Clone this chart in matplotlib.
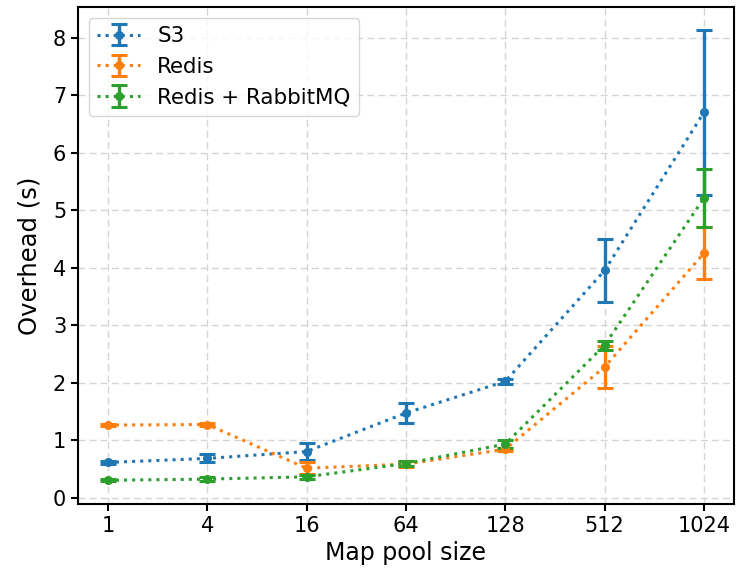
import matplotlib
matplotlib.use("Agg")
import matplotlib.pyplot as plt
import numpy as np

pool_sizes = ["1", "4", "16", "64", "128", "512", "1024"]

s3_mean = [0.61, 0.68, 0.80, 1.47, 2.02, 3.95, 6.70]
s3_err = [0.03, 0.07, 0.14, 0.17, 0.04, 0.55, 1.44]

redis_mean = [1.26, 1.27, 0.51, 0.58, 0.84, 2.27, 4.25]
redis_err = [0.02, 0.02, 0.10, 0.05, 0.03, 0.37, 0.45]

rmq_mean = [0.30, 0.32, 0.36, 0.59, 0.93, 2.65, 5.21]
rmq_err = [0.02, 0.03, 0.04, 0.05, 0.07, 0.08, 0.50]

series = [
    ("S3", s3_mean, s3_err, "#1f77b4"),
    ("Redis", redis_mean, redis_err, "#ff7f0e"),
    ("Redis + RabbitMQ", rmq_mean, rmq_err, "#2ca02c"),
]

fig = plt.figure(figsize=(7.36, 5.78), dpi=100)
ax = fig.add_axes([0.106, 0.128, 0.891, 0.860])

x = np.arange(len(pool_sizes))
for label, m, e, c in series:
    ax.errorbar(x, m, yerr=e, fmt="o", linestyle=":", color=c, label=label,
                markersize=5.5, linewidth=2.2, elinewidth=2.4, capsize=6, capthick=2.2)

ax.set_xticks(x)
ax.set_xticklabels(pool_sizes)
ax.grid(True, linestyle=(0, (5, 3)), color="#d5d5d5", linewidth=1)
ax.set_axisbelow(True)
ax.tick_params(labelsize=15, width=1.5, length=5)
for s in ax.spines.values():
    s.set_linewidth(1.5)
ax.set_xlabel("Map pool size", fontsize=17)
ax.set_ylabel("Overhead (s)", fontsize=17.5, labelpad=8)
ax.legend(loc="upper left", fontsize=15.4)

fig.savefig("out.png", dpi=100)
